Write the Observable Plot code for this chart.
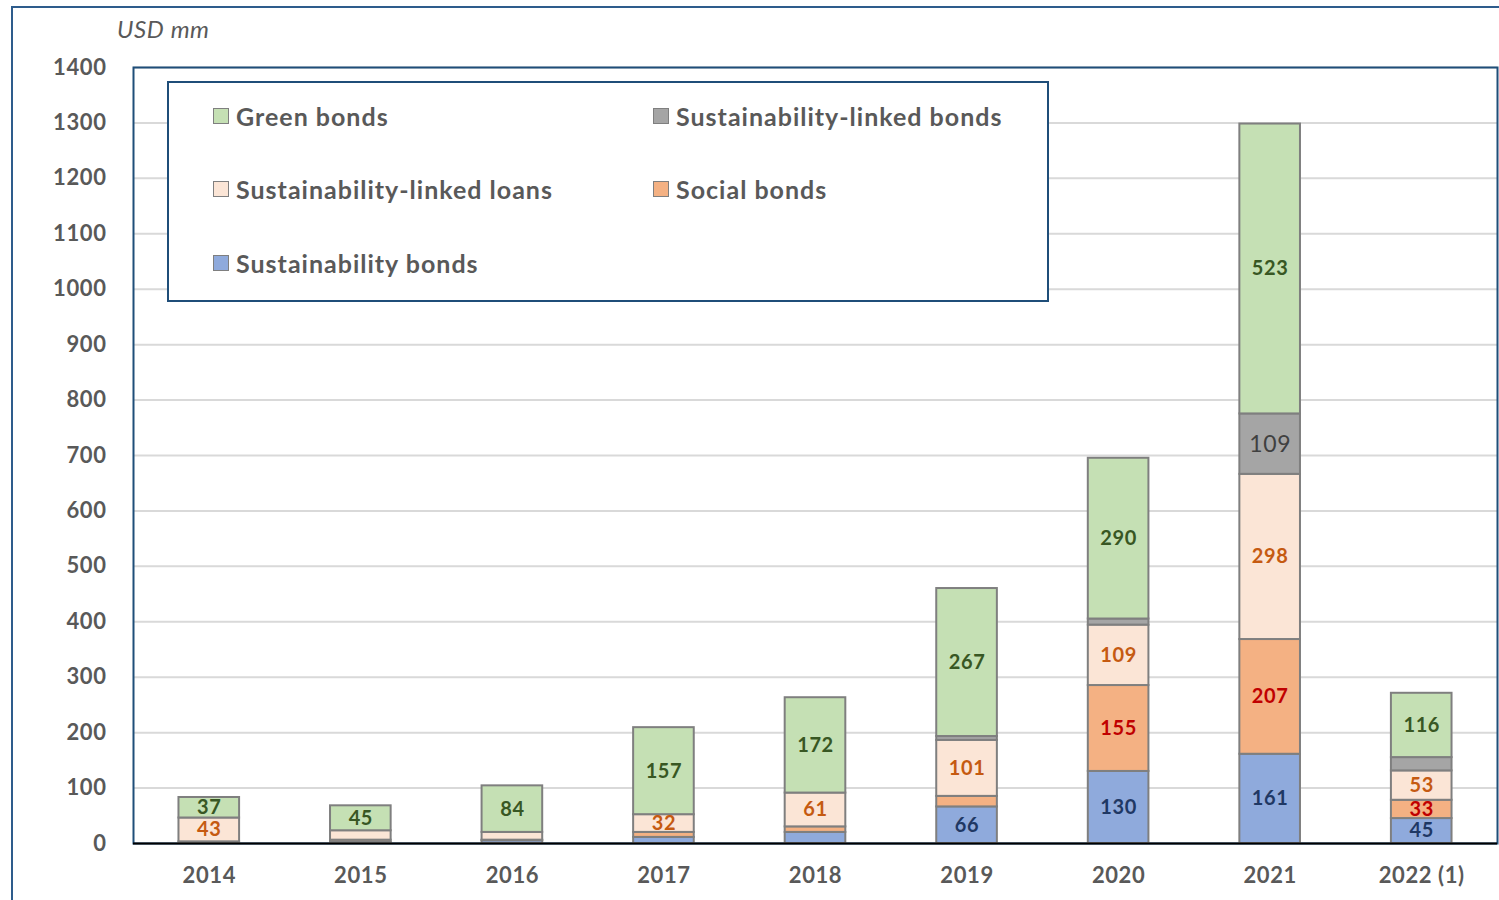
<!DOCTYPE html>
<html>
<head>
<meta charset="utf-8">
<script src="https://cdn.jsdelivr.net/npm/d3@7"></script>
<script src="https://cdn.jsdelivr.net/npm/@observablehq/plot@0.6"></script>
<style>
  html, body { margin: 0; padding: 0; background: #fff; }
  #wrap { position: relative; width: 1499px; height: 900px; overflow: hidden; font-family: Lato, "Open Sans", sans-serif; }
  #outer { position: absolute; left: 11px; top: 6px; width: 1600px; height: 1000px; border: 2px solid #2E5C8C; box-sizing: border-box; }
  #chart { position: absolute; left: 0; top: 0; }
  #unit { position: absolute; left: 117px; top: 14px; font-style: italic; font-size: 24px; letter-spacing: 0.6px; color: #595959; }
  #legend { position: absolute; left: 167px; top: 81px; width: 882px; height: 221px; border: 2px solid #1F4E79; background: #fff; box-sizing: border-box; }
  .item { position: absolute; display: flex; align-items: center; font-size: 25px; letter-spacing: 1px; font-weight: bold; color: #595959; white-space: nowrap; }
  .sw { width: 16px; height: 16px; border: 1.5px solid #7F7F7F; margin-right: 7px; box-sizing: border-box; }
  #chart svg text { letter-spacing: 0.6px; }
</style>
</head>
<body>
<div id="wrap">
  <div id="outer"></div>
  <div id="chart"></div>
  <div id="unit">USD mm</div>
  <div id="legend"></div>
</div>
<script>
// ---- data ----
const years = ["2014", "2015", "2016", "2017", "2018", "2019", "2020", "2021", "2022 (1)"];
// stack order bottom -> top
const seriesNames = ["Sustainability bonds", "Social bonds", "Sustainability-linked loans", "Sustainability-linked bonds", "Green bonds"];
const sustainabilityBonds     = [0, 2, 5, 11, 20, 66, 130, 161, 45];
const socialBonds             = [3, 4, 1, 9, 10, 19, 155, 207, 33];
const sustainabilityLinkedLoans = [43, 17, 14, 32, 61, 101, 109, 298, 53];
const sustainabilityLinkedBonds = [0, 0, 0, 0, 0, 7, 11, 109, 24];
const greenBonds              = [37, 45, 84, 157, 172, 267, 290, 523, 116];
const yTicks = [0, 100, 200, 300, 400, 500, 600, 700, 800, 900, 1000, 1100, 1200, 1300, 1400];

const seriesColors = ["#8FAADC", "#F4B183", "#FBE5D6", "#A5A5A5", "#C5E0B4"];
const labelColors  = ["#1F3864", "#C00000", "#C55A11", "#404040", "#385723"];
const legendOrder  = ["Green bonds", "Sustainability-linked bonds", "Sustainability-linked loans", "Social bonds", "Sustainability bonds"];

const seriesValues = [sustainabilityBonds, socialBonds, sustainabilityLinkedLoans, sustainabilityLinkedBonds, greenBonds];
const data = [];
seriesNames.forEach((s, i) => years.forEach((y, j) => data.push({year: y, series: s, value: seriesValues[i][j]})));
const labelColorOf = Object.fromEntries(seriesNames.map((s, i) => [s, labelColors[i]]));
const grey = "Sustainability-linked bonds";

const stackOpts = (textFn) => Plot.stackY({x: "year", y: "value", z: "series", order: seriesNames, text: textFn});

const chart = Plot.plot({
  width: 1499,
  height: 900,
  marginLeft: 133,
  marginRight: 2,
  marginTop: 67,
  marginBottom: 57,
  style: {fontFamily: "Lato, 'Open Sans', sans-serif", background: "transparent"},
  x: {domain: years, paddingInner: 0.6, paddingOuter: 0.3, round: false, label: null},
  y: {domain: [0, 1400], label: null},
  color: {domain: seriesNames, range: seriesColors},
  marks: [
    Plot.gridY(yTicks, {stroke: "#D9D9D9", strokeOpacity: 1, strokeWidth: 2}),
    Plot.frame({stroke: "#1F4E79", strokeWidth: 2}),
    Plot.barY(data, {x: "year", y: "value", fill: "series", z: "series", order: seriesNames, stroke: "#7F7F7F", strokeWidth: 2}),
    Plot.text(data, {...stackOpts(d => (d.value >= 30 && d.series !== grey) ? String(d.value) : ""),
      fill: d => labelColorOf[d.series], fontSize: 20, fontWeight: "bold"}),
    Plot.text(data, {...stackOpts(d => (d.value >= 30 && d.series === grey) ? String(d.value) : ""),
      fill: d => labelColorOf[d.series], fontSize: 23, fontWeight: "normal"}),
    Plot.ruleY([0], {stroke: "#000", strokeWidth: 2}),
    Plot.axisY(yTicks, {tickSize: 0, tickPadding: 27, tickFormat: "d", fontSize: 22, fontWeight: "bold", fill: "#595959", label: null}),
    Plot.axisX({tickSize: 0, tickPadding: 24, fontSize: 22, fontWeight: "bold", fill: "#595959", label: null})
  ]
});
document.getElementById("chart").appendChild(chart);

// legend built from series arrays
const legend = document.getElementById("legend");
const colX = [44, 484];
const rowY = [33, 106, 180];
legendOrder.forEach((name, k) => {
  const idx = seriesNames.indexOf(name);
  const el = document.createElement("div");
  el.className = "item";
  el.style.left = colX[k % 2] + "px";
  el.style.top = (rowY[Math.floor(k / 2)] - 17) + "px";
  el.style.height = "34px";
  const sw = document.createElement("div");
  sw.className = "sw";
  sw.style.background = seriesColors[idx];
  el.appendChild(sw);
  const t = document.createElement("span");
  t.textContent = name;
  el.appendChild(t);
  legend.appendChild(el);
});
</script>
</body>
</html>
